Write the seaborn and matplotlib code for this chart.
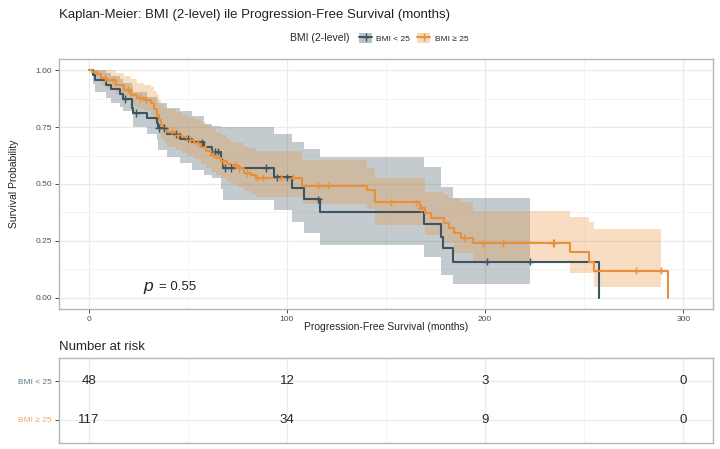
import numpy as np
import pandas as pd
import seaborn as sns
import matplotlib
matplotlib.use("Agg")
import matplotlib.pyplot as plt
from matplotlib.patches import Patch
from matplotlib.lines import Line2D
from matplotlib.legend_handler import HandlerTuple

groups = ["BMI < 25", "BMI ≥ 25"]
colors = ["#3B5563", "#E8913A"]

# BMI < 25 : step times, survival, CI
low_time = [0, 2, 3, 8.6, 11, 16, 17.5, 22, 22.5, 29.6, 34.7, 35, 39.7, 46, 52, 58, 62,
            66.5, 67.5, 93.3, 102.4, 108.4, 116.7, 169.4, 177.9, 179, 183.7, 257.7]
low_surv = [1.0, 0.979, 0.958, 0.937, 0.916, 0.895, 0.874, 0.833, 0.812, 0.79, 0.768, 0.746,
            0.72, 0.70, 0.683, 0.664, 0.643, 0.607, 0.571, 0.529, 0.482, 0.433, 0.379, 0.323,
            0.269, 0.218, 0.159, 0.0]
low_lower = [1.0, 0.94, 0.907, 0.88, 0.858, 0.841, 0.82, 0.805, 0.753, 0.72, 0.695, 0.651,
             0.621, 0.592, 0.563, 0.54, 0.526, 0.48, 0.43, 0.386, 0.335, 0.284, 0.232, 0.18,
             0.10, 0.10, 0.059, 0.059]
low_upper = [1.0, 1.0, 1.0, 0.99, 0.975, 0.96, 0.945, 0.93, 0.905, 0.885, 0.87, 0.855,
             0.835, 0.82, 0.80, 0.765, 0.755, 0.749, 0.749, 0.72, 0.687, 0.654, 0.621, 0.577,
             0.489, 0.489, 0.438, 0.438]
low_censor = [18.5, 24, 35.5, 38, 44, 50, 57, 63.5, 65, 69, 72, 89.4, 95, 100, 115.8, 200.8, 222.9]
low_band_end = 222.9

# BMI >= 25
high_time = [0, 1.5, 4.4, 6, 9.4, 13.6, 17.8, 21.2, 24.6, 27.9, 31.3, 33, 34.7, 35.5, 36.4,
             38, 39.7, 43.9, 47, 49.8, 53, 56.6, 59, 61.6, 64, 66.7, 70, 71.7, 75, 78.5, 81.8,
             84.3, 107.4, 140.4, 144.4, 167, 169.9, 172.7, 179.5, 182, 184.5, 188, 193.8, 243,
             252.2, 255.2, 292.3]
high_surv = [1.0, 0.991, 0.983, 0.966, 0.956, 0.937, 0.915, 0.893, 0.878, 0.871, 0.856, 0.83,
             0.805, 0.78, 0.761, 0.746, 0.731, 0.717, 0.705, 0.695, 0.68, 0.663, 0.645, 0.629,
             0.615, 0.60, 0.59, 0.585, 0.57, 0.548, 0.538, 0.528, 0.493, 0.474, 0.42, 0.394,
             0.372, 0.35, 0.328, 0.306, 0.284, 0.262, 0.24, 0.203, 0.159, 0.118, 0.0]
high_lower = [1.0, 0.975, 0.955, 0.935, 0.92, 0.895, 0.87, 0.845, 0.83, 0.82, 0.80, 0.775,
              0.745, 0.72, 0.70, 0.68, 0.665, 0.65, 0.635, 0.625, 0.61, 0.59, 0.57, 0.555,
              0.54, 0.525, 0.51, 0.50, 0.485, 0.47, 0.455, 0.445, 0.41, 0.39, 0.32, 0.32,
              0.276, 0.276, 0.24, 0.24, 0.196, 0.196, 0.151, 0.107, 0.107, 0.048, 0.048]
high_upper = [1.0, 1.0, 1.0, 1.0, 1.0, 0.99, 0.975, 0.96, 0.945, 0.935, 0.925, 0.91, 0.89,
              0.87, 0.85, 0.84, 0.83, 0.815, 0.805, 0.795, 0.785, 0.775, 0.76, 0.745, 0.73,
              0.717, 0.70, 0.687, 0.68, 0.665, 0.658, 0.645, 0.607, 0.57, 0.526, 0.526, 0.467,
              0.467, 0.452, 0.438, 0.438, 0.423, 0.383, 0.357, 0.335, 0.303, 0.303]
high_censor = [8, 12, 20, 26, 29, 42, 45, 51, 55, 62.5, 68, 74, 76, 80, 85, 88, 97, 103,
               115.5, 120.5, 152.5, 165, 167.5, 189.6, 198.8, 208.9, 234.2, 235, 276.3, 289]
high_band_end = 289

risk_times = [0, 100, 200, 300]
risk_low = [48, 12, 3, 0]
risk_high = [117, 34, 9, 0]

curves = [(low_time, low_surv, low_lower, low_upper, low_censor, low_band_end),
          (high_time, high_surv, high_lower, high_upper, high_censor, high_band_end)]

sns.set_theme(style="white")
plt.rcParams["font.family"] = ["Liberation Sans", "DejaVu Sans"]

fig = plt.figure(figsize=(7.2, 4.49), dpi=100)
W, H = 720, 449
ax = fig.add_axes([59 / W, 1 - 309 / H, 654 / W, 250 / H])

line_rows, cens_rows = [], []
for g, (t, s, lo, up, cen, bend) in zip(groups, curves):
    t = np.array(t); s = np.array(s)
    for ti, si in zip(t, s):
        line_rows.append({"time": ti, "surv": si, "group": g})
    idx = np.searchsorted(t, cen, side="right") - 1
    for c, i in zip(cen, idx):
        cens_rows.append({"time": c, "surv": s[i], "group": g})
line_df = pd.DataFrame(line_rows)
cens_df = pd.DataFrame(cens_rows)

for g, col, (t, s, lo, up, cen, bend) in zip(groups, colors, curves):
    t = np.array(t)
    keep = t < bend
    bx = np.append(t[keep], bend)
    blo = np.append(np.array(lo)[keep], np.array(lo)[keep][-1])
    bup = np.append(np.array(up)[keep], np.array(up)[keep][-1])
    ax.fill_between(bx, blo, bup, step="post", color=col, alpha=0.3, linewidth=0)

sns.lineplot(data=line_df, x="time", y="surv", hue="group", palette=colors,
             drawstyle="steps-post", estimator=None, sort=False, linewidth=1.5,
             legend=False, ax=ax)
sns.scatterplot(data=cens_df, x="time", y="surv", hue="group", palette=colors,
                marker="+", s=28, linewidth=1.0, legend=False, ax=ax, zorder=4)

def style_panel(a):
    a.set_xlim(-15, 315)
    a.set_xticks([0, 100, 200, 300])
    a.set_xticks([50, 150, 250], minor=True)
    a.grid(True, which="major", color="#EBEBEB", linewidth=0.9)
    a.grid(True, which="minor", color="#F3F3F3", linewidth=0.6)
    a.set_axisbelow(True)
    for sp in a.spines.values():
        sp.set_color("#B5B5B5")
        sp.set_linewidth(1.0)
    a.tick_params(which="major", length=3, width=0.6, color="#333333",
                  labelsize=6, labelcolor="#4D4D4D", pad=2, left=True, bottom=True)
    a.tick_params(which="minor", length=0)
    a.set_xlabel("")
    a.set_ylabel("")

style_panel(ax)
ax.set_ylim(-0.05, 1.05)
ax.set_yticks([0, 0.25, 0.5, 0.75, 1.0])
ax.set_yticks([0.125, 0.375, 0.625, 0.875], minor=True)
ax.set_yticklabels(["0.00", "0.25", "0.50", "0.75", "1.00"])

ax.text(27.8, 0.047, "p", style="italic", fontsize=12.5, ha="left", va="center")
ax.text(35.5, 0.047, "= 0.55", fontsize=9.5, ha="left", va="center")

fig.text(59 / W, 1 - 15 / H, "Kaplan-Meier: BMI (2-level) ile Progression-Free Survival (months)",
         fontsize=9.5, ha="left", va="center", color="#222222")
fig.text(14 / W, 1 - 184 / H, "Survival Probability", rotation=90, fontsize=7.5,
         ha="center", va="center")
fig.text(386 / W, 1 - 327 / H, "Progression-Free Survival (months)", fontsize=7.5,
         ha="center", va="center")

# legend: ribbon box with line and censor mark on top
fig.text(290 / W, 1 - 38 / H, "BMI (2-level)", fontsize=7.5, ha="left", va="center")
handles = []
for col in colors:
    handles.append((Patch(facecolor=col, alpha=0.35, edgecolor="none"),
                    Line2D([], [], color=col, linewidth=1.4, marker="+", markersize=6)))
fig.legend(handles, groups, loc="center left", bbox_to_anchor=(359 / W, 1 - 38 / H),
           ncol=2, frameon=False, fontsize=6, handlelength=1.6, handleheight=1.6,
           handletextpad=0.5, columnspacing=0.8, borderaxespad=0, borderpad=0,
           handler_map={tuple: HandlerTuple(ndivide=1, pad=0)})

# risk table
ax2 = fig.add_axes([59 / W, 1 - 443 / H, 654 / W, 85 / H])
style_panel(ax2)
ax2.set_ylim(0.4, 2.6)
ax2.set_yticks([1, 2])
ax2.set_yticklabels([groups[1], groups[0]])
for lab, col in zip(ax2.get_yticklabels(), ["#F0A868", "#5E7480"]):
    lab.set_color(col)
ax2.tick_params(axis="x", labelbottom=False, length=0)
ax2.tick_params(axis="y", length=3)
for tt, a, b in zip(risk_times, risk_low, risk_high):
    ax2.text(tt, 2, str(a), ha="center", va="center", fontsize=9.5, zorder=5)
    ax2.text(tt, 1, str(b), ha="center", va="center", fontsize=9.5, zorder=5)
fig.text(59 / W, 1 - 347 / H, "Number at risk", fontsize=9.5, ha="left", va="center")

fig.savefig("out.png", dpi=100)
